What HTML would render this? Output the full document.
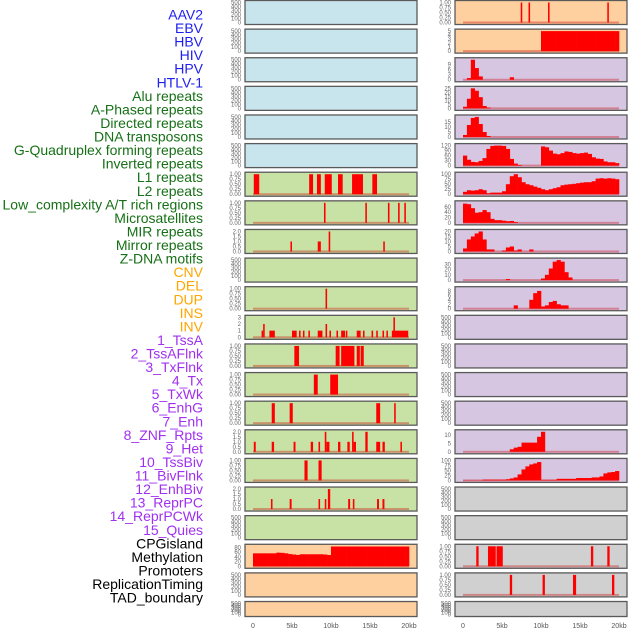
<!DOCTYPE html>
<html><head><meta charset="utf-8"><style>
html,body{margin:0;padding:0;background:#fff;width:630px;height:630px;overflow:hidden}
svg{display:block;font-family:"Liberation Sans",sans-serif}
</style></head><body>
<svg id="chart" width="630" height="630" xmlns="http://www.w3.org/2000/svg"></svg>
<script>
// ---- data ----
const trackLabels = ["AAV2","EBV","HBV","HIV","HPV","HTLV-1","Alu repeats","A-Phased repeats","Directed repeats","DNA transposons","G-Quadruplex forming repeats","Inverted repeats","L1 repeats","L2 repeats","Low_complexity A/T rich regions","Microsatellites","MIR repeats","Mirror repeats","Z-DNA motifs","CNV","DEL","DUP","INS","INV","1_TssA","2_TssAFlnk","3_TxFlnk","4_Tx","5_TxWk","6_EnhG","7_Enh","8_ZNF_Rpts","9_Het","10_TssBiv","11_BivFlnk","12_EnhBiv","13_ReprPC","14_ReprPCWk","15_Quies","CPGisland","Methylation","Promoters","ReplicationTiming","TAD_boundary"];
const labelColors = ["#1e1ef0","#1e1ef0","#1e1ef0","#1e1ef0","#1e1ef0","#1e1ef0","#167016","#167016","#167016","#167016","#167016","#167016","#167016","#167016","#167016","#167016","#167016","#167016","#167016","#ffa500","#ffa500","#ffa500","#ffa500","#ffa500","#a030f0","#a030f0","#a030f0","#a030f0","#a030f0","#a030f0","#a030f0","#a030f0","#a030f0","#a030f0","#a030f0","#a030f0","#a030f0","#a030f0","#a030f0","#000","#000","#000","#000","#000"];
const xTickValues = [0,5,10,15,20];
const xTickLabels = ["0","5kb","10kb","15kb","20kb"];
// spike segments [startKb, endKb, value]
const leftL1 = [[0.1,0.8,1],[7.2,7.7,1],[8.2,8.7,1],[9.2,10.1,1],[10.9,11.5,1],[12.7,14.1,1],[15.3,15.9,1]];
const leftL2 = [[9.1,9.3,1],[14.4,14.6,1],[17.3,17.5,1],[18.6,18.8,1],[19.4,19.6,1]];
const leftLowComplex = [[4.8,5.0,1],[8.3,8.7,1],[9.7,9.9,2],[16.7,16.9,1]];
const leftMirror = [[9.3,9.5,1]];
const leftZDNA = [[1.1,1.3,1],[1.3,1.5,2],[2.1,2.8,1],[5.0,5.6,1],[5.9,6.1,1],[6.4,6.6,1],[7.1,7.3,1],[8.3,8.9,1],[9.3,9.5,2],[9.8,10.0,1],[10.7,10.9,1],[11.3,11.8,1],[11.9,12.1,1],[13.3,13.8,1],[14.1,14.3,1],[15.2,15.4,1],[15.8,16.0,1],[16.6,16.8,1],[17.1,17.3,1],[17.8,19.9,1],[18.0,18.2,3]];
const leftTssA = [[5.3,5.9,1],[10.6,11.1,1],[11.3,13.0,1],[13.3,13.7,1],[13.8,14.2,1]];
const leftTssAFlnk = [[7.8,8.3,1],[9.9,10.9,1]];
const leftTxFlnk = [[2.4,2.8,1],[4.7,5.1,1],[15.8,16.3,1],[18.1,18.3,1]];
const leftTx = [[0.1,0.35,1],[2.4,2.7,1],[5.2,5.45,1],[7.4,7.7,1],[8.4,8.6,1],[9.2,9.4,2],[9.4,9.8,1],[10.9,11.2,1],[12.1,12.4,1],[12.7,12.9,2],[12.9,13.2,1],[14.4,14.7,2],[15.8,16.3,1],[16.6,16.9,1],[18.9,19.1,1]];
const leftTxWk = [[6.6,7.0,1],[8.4,8.8,1]];
const leftEnhG = [[2.3,2.5,1],[4.7,4.95,1],[8.4,8.6,1],[9.2,9.4,1],[9.6,9.9,2],[12.2,12.45,1],[12.8,13.0,1],[15.9,16.15,1],[16.6,16.85,1]];
const rightAAV2 = [[7.4,7.6,1],[8.4,8.6,1],[10.9,11.1,1],[18.5,18.7,1]];
const rightCPG = [[1.7,2.0,1],[3.2,4.2,1],[4.3,5.1,1],[16.4,16.7,1],[18.5,18.8,1]];
const rightMeth = [[6.0,6.3,1],[10.2,10.5,1],[14.1,14.5,1],[19.1,19.4,1]];
// histogram bins, 0.5kb each from 0 to 20kb
const rightEBV = [0,0,0,0,0,0,0,0,0,0,0,0,0,0,0,0,0,0,0,0,5,5,5,5,5,5,5,5,5,5,5,5,5,5,5,5,5,5,5,5];
const rightHIV = [0,1,12,7,2,0,0,0,0,0,0,0,1.5,0,0,0,0,0,0,0,0,0,0,0,0,0,0,0,0,0,0,0,0,0,0,0,0,0,0,0];
const rightHPV = [2,12,25,22,14,3,1,0,0,0,0,0,0,0,0,0,0,0,0,0,0,0,0,0,0,0,0,0,0,0,0,0,0,0,0,0,0,0,0,0];
const rightHTLV = [2,12,19,20,13,5,1,0,0,0,0,0,0,0,0,0,0,0,0,0,0,0,0,0,0,0,0,0,0,0,0,0,0,0,0,0,0,0,0,0];
const rightAlu = [60,35,22,20,28,45,100,118,120,120,118,100,40,12,4,0,0,0,0,0,115,110,90,72,68,75,85,82,75,72,75,78,70,50,42,40,25,20,20,15];
const rightAPhased = [12,20,18,20,25,20,5,8,8,8,15,50,90,100,85,60,50,45,38,32,25,20,25,30,35,45,48,50,52,55,58,60,60,65,78,80,78,80,78,75];
const rightDirected = [72,70,55,38,40,48,40,15,10,10,8,6,7,3,0,0,0,0,0,0,0,0,0,0,0,0,0,0,0,0,0,0,0,0,0,0,0,0,0,0];
const rightDNA = [3,12,15,18,20,12,2,2,0,0,1,4,5,1,2,0,0,2,0,0,0,0,0,0,0,0,0,0,0,0,0,0,0,0,0,0,0,0,0,0];
const rightGQuad = [0,0,0,0,0,0,0,0,0,0,0,2,0,0,0,0,0,0,0,0,3,10,22,35,38,35,15,5,0,0,0,0,0,0,0,0,0,0,0,0];
const rightInverted = [0,0,0,0,0,0,0,0,0,0,0,0,0,1.5,0,0,0,4,7,8,1,1.5,3,3.5,2,1.5,1.5,0,0,0,0,0,0,0,0,0,0,0,0,0];
const rightZNF = [0,0,0,0,0,0,0,0,0,0,0,0,1.5,2.5,3,5.5,5.5,5.5,5.5,9,12,0,0,0,0,0,0,0,0,0,0,0,0,0,0,0,0,0,0,0];
const rightHet = [1,1,1,1,1,4,4,4,4,4,4,6,10,15,30,55,70,80,85,92,3,3,3,3,8,8,8,8,8,12,12,12,12,15,15,20,35,40,42,47];
const leftCPG = [55,55,55,55,55,55,58,57,55,52,50,48,51,51,51,51,51,51,50,48,84,84,84,84,84,84,84,84,84,84,84,84,84,84,84,84,84,84,84,84];

// ---- layout ----
const svg = document.getElementById('chart');
const NS = 'http://www.w3.org/2000/svg';
function mk(tag, attrs, parent){const e=document.createElementNS(NS,tag);for(const k in attrs)e.setAttribute(k,attrs[k]);(parent||svg).appendChild(e);return e;}
const BG = {blue:'#c8e4ec',green:'#c8e1a4',orange:'#fecf9f',purple:'#d6c6e2',grey:'#d0d0d0'};
const COLS = [{x:245,w:172,x0:253},{x:455,w:172,x0:463}];
const KB = 7.8;
function rowTop(i){return 0.5+i*28.62;}
function rowH(i){return i===21?15:24;}
const T500 = {max:500,ticks:[0,100,200,300,400,500],fmt:v=>String(v)};
const T1 = {max:1,ticks:[0,0.25,0.5,0.75,1],fmt:v=>v.toFixed(2)};
const T2 = {max:2,ticks:[0,0.5,1,1.5,2],fmt:v=>v.toFixed(1)};
function Tn(max,ticks){return {max:max,ticks:ticks,fmt:v=>String(v)};}
const L = [
 {bg:'blue',t:T500},{bg:'blue',t:T500},{bg:'blue',t:T500},{bg:'blue',t:T500},{bg:'blue',t:T500},{bg:'blue',t:T500},
 {bg:'green',t:T1,seg:leftL1},{bg:'green',t:T1,seg:leftL2},{bg:'green',t:T2,seg:leftLowComplex},{bg:'green',t:T500},
 {bg:'green',t:T1,seg:leftMirror},{bg:'green',t:Tn(3,[0,1,2,3]),seg:leftZDNA},{bg:'green',t:T1,seg:leftTssA},
 {bg:'green',t:T1,seg:leftTssAFlnk},{bg:'green',t:T1,seg:leftTxFlnk},{bg:'green',t:T2,seg:leftTx},
 {bg:'green',t:T1,seg:leftTxWk},{bg:'green',t:T2,seg:leftEnhG},{bg:'green',t:T500},
 {bg:'orange',t:Tn(85,[0,20,40,60,80]),bins:leftCPG},{bg:'orange',t:T500},{bg:'orange',t:T500}
];
const R = [
 {bg:'orange',t:T1,seg:rightAAV2},{bg:'orange',t:Tn(5,[0,1,2,3,4,5]),bins:rightEBV},
 {bg:'purple',t:Tn(12,[0,3,6,9]),bins:rightHIV},{bg:'purple',t:Tn(25,[0,5,10,15,20,25]),bins:rightHPV},
 {bg:'purple',t:Tn(20,[0,5,10,15]),bins:rightHTLV},{bg:'purple',t:Tn(120,[0,30,60,90,120]),bins:rightAlu},
 {bg:'purple',t:Tn(100,[0,25,50,75,100]),bins:rightAPhased},{bg:'purple',t:Tn(75,[0,20,40,60]),bins:rightDirected},
 {bg:'purple',t:Tn(20,[0,5,10,15,20]),bins:rightDNA},{bg:'purple',t:Tn(38,[0,10,20,30]),bins:rightGQuad},
 {bg:'purple',t:Tn(9,[0,2,4,6,8]),bins:rightInverted},{bg:'purple',t:T500},{bg:'purple',t:T500},{bg:'purple',t:T500},
 {bg:'purple',t:T500},{bg:'purple',t:Tn(12,[0,5,10]),bins:rightZNF},{bg:'purple',t:Tn(100,[0,25,50,75,100]),bins:rightHet},
 {bg:'grey',t:T500},{bg:'grey',t:T500},{bg:'grey',t:T1,seg:rightCPG},{bg:'grey',t:T1,seg:rightMeth},{bg:'grey',t:T500}
];

// labels
trackLabels.forEach((s,i)=>{
  const t=mk('text',{x:203,y:19.5+i*13.56,'text-anchor':'end','font-size':'14',fill:labelColors[i]});
  t.textContent=s;
  
  
});

function drawPanel(p,ci,ri){
  const c=COLS[ci], top=rowTop(ri), h=rowH(ri);
  const g=mk('g',{});
  
  
  mk('rect',{x:c.x,y:top,width:c.w,height:h,fill:BG[p.bg],stroke:'#5a5a5a','stroke-width':1.3},g);
  const yb=top+h-2, ih=h-4;
  const yv=v=>yb-v/p.t.max*ih;
  const xk=k=>c.x0+k*KB;
  // ticks
  p.t.ticks.forEach(v=>{
    const t=mk('text',{x:c.x-4,y:yv(v)+2,'text-anchor':'end','font-size':'6',fill:'#666'},g);
    t.textContent=p.t.fmt(v);
    
    
  });
  if(p.seg||p.bins){
    const bl=mk('rect',{x:xk(0),y:yb-1,width:20*KB,height:2,fill:'rgba(200,0,0,0.35)'},g);
    
    
  }
  if(p.seg){
    p.seg.forEach(s=>{
      const w=Math.max(1.5,xk(s[1])-xk(s[0]));
      const r=mk('rect',{x:xk(s[0]),y:yv(s[2]),width:w,height:yb-yv(s[2]),fill:'#ff0000'},g);
      
      
    });
  }
  if(p.bins){
    p.bins.forEach((v,i)=>{
      if(v<=0)return;
      const r=mk('rect',{x:xk(i*0.5),y:yv(v),width:0.5*KB+0.3,height:yb-yv(v),fill:'#ff0000'},g);
      
      
    });
  }
}
L.forEach((p,i)=>drawPanel(p,0,i));
R.forEach((p,i)=>drawPanel(p,1,i));

// x axes
COLS.forEach(c=>{
  xTickValues.forEach((v,i)=>{
    const t=mk('text',{x:c.x0+v*KB,y:628,'text-anchor':'middle','font-size':'7',fill:'#555'});
    t.textContent=xTickLabels[i];
    
    
  });
});
</script>
</body></html>
